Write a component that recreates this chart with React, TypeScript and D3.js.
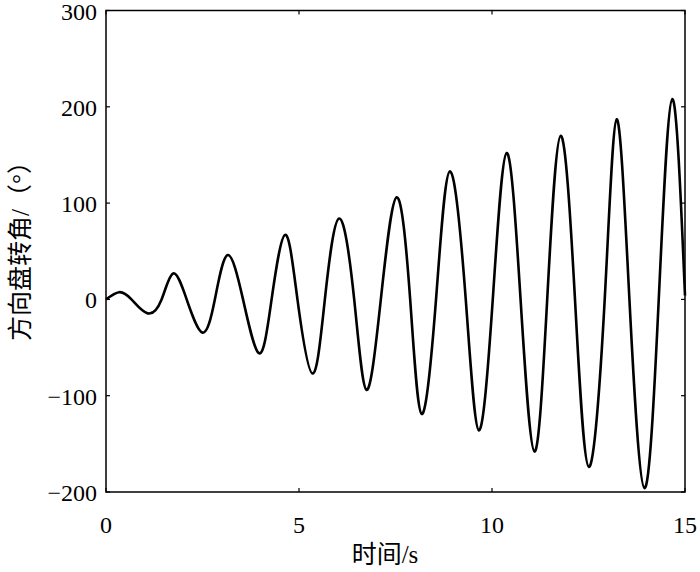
import React from "react";
import * as d3 from "d3";

const times = [0, 0.34, 0.66, 1.08, 1.44, 1.74, 2.09, 2.5, 2.82, 3.15, 3.55, 3.97, 4.29, 4.64, 4.96, 5.35, 5.67, 6.04, 6.43, 6.75, 7.12, 7.53, 7.88, 8.18, 8.55, 8.91, 9.32, 9.66, 10.02, 10.38, 10.74, 11.1, 11.43, 11.78, 12.15, 12.51, 12.92, 13.23, 13.56, 13.95, 14.32, 14.67, 15];
const angles = [0, 7.5, 0, -14.5, 0, 27, 0, -34.5, 0, 46, 0, -56, 0, 67, 0, -77, 0, 84, 0, -94, 0, 106, 0, -119, 0, 133, 0, -136, 0, 152, 0, -158, 0, 170, 0, -174, 0, 187, 0, -196, 0, 208, 4];
const xTicks = [0, 5, 10, 15];
const yTicks = [-200, -100, 0, 100, 200, 300];
const xLabel = "时间/s";
const yLabel = "方向盘转角/（°）";

const W = 700, H = 572;
const left = 106, right = 685, top = 10.5, bottom = 492;
const serif = "'Liberation Serif', 'Times New Roman', serif";
const cjk = "'Liberation Serif', 'Noto Sans CJK SC', serif";

export default function App() {
  const x = d3.scaleLinear().domain([0, 15]).range([left, right]);
  const y = d3.scaleLinear().domain([-200, 300]).range([bottom, top]);
  const data = times.map((t, i) => [t, angles[i]] as [number, number]);
  const line = d3.line<[number, number]>().x(d => x(d[0])).y(d => y(d[1])).curve(d3.curveNatural);
  const tl = 4;
  return (
    <svg width={W} height={H} style={{ position: "absolute", left: 0, top: 0, background: "#fff" }}>
      <rect x={0} y={0} width={W} height={H} fill="#fff" />
      <path d={line(data) || ""} fill="none" stroke="#000" strokeWidth={2.6} strokeLinejoin="round" />
      <rect x={left} y={top} width={right - left} height={bottom - top} fill="none" stroke="#000" strokeWidth={1.5} />
      {xTicks.map(t => (
        <g key={"x" + t}>
          <line x1={x(t)} x2={x(t)} y1={bottom} y2={bottom - tl} stroke="#000" strokeWidth={1.2} />
          <line x1={x(t)} x2={x(t)} y1={top} y2={top + tl} stroke="#000" strokeWidth={1.2} />
          <text x={x(t)} y={533} textAnchor="middle" fontFamily={serif} fontSize={24} fill="#000">{t}</text>
        </g>
      ))}
      {yTicks.map(v => (
        <g key={"y" + v}>
          <line x1={left} x2={left + tl} y1={y(v)} y2={y(v)} stroke="#000" strokeWidth={1.2} />
          <line x1={right} x2={right - tl} y1={y(v)} y2={y(v)} stroke="#000" strokeWidth={1.2} />
          <text x={97} y={y(v) + 9} textAnchor="end" fontFamily={serif} fontSize={24} fill="#000">{v < 0 ? "\u2212" + Math.abs(v) : v}</text>
        </g>
      ))}
      <text x={385} y={563} textAnchor="middle" fontFamily={cjk} fontSize={25} fill="#000">{xLabel}</text>
      <text transform={`translate(29,245) rotate(-90)`} textAnchor="middle" fontFamily={cjk} fontSize={25} fill="#000">{yLabel}</text>
    </svg>
  );
}
